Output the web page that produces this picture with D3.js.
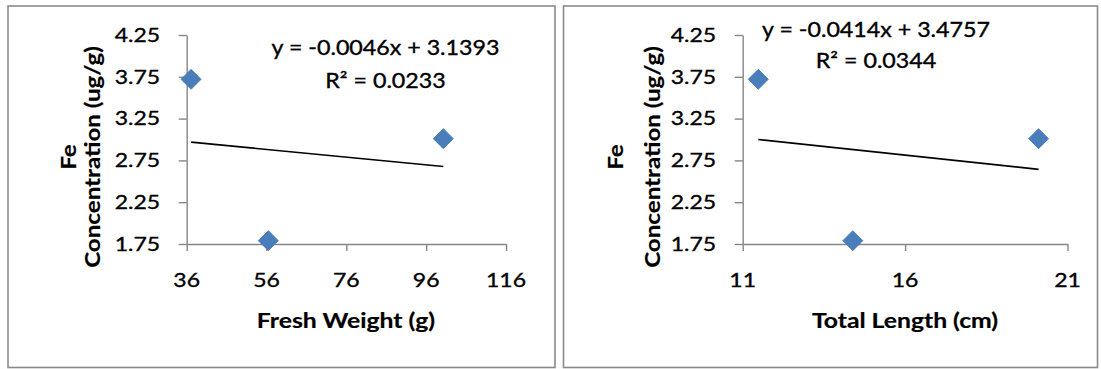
<!DOCTYPE html>
<html>
<head>
<meta charset="utf-8">
<script src="https://cdn.jsdelivr.net/npm/d3@7"></script>
<style>
  html, body { margin: 0; padding: 0; background: #fff; }
  svg { display: block; }
  text { font-family: Lato, "Open Sans", sans-serif; fill: #000; }
</style>
</head>
<body>
<svg id="chart" width="1101" height="369"></svg>
<script>
// Fe concentration of three fish against body size
const feConcentration = [3.72, 1.79, 3.01];
const freshWeight = [37.1, 56.45, 100.3];
const totalLength = [11.48, 14.39, 20.11];

const yTicks = [1.75, 2.25, 2.75, 3.25, 3.75, 4.25];
const weightTicks = [36, 56, 76, 96, 116];
const lengthTicks = [11, 16, 21];

// fitted trendlines: slope, intercept, R²
const weightFit = { slope: -0.0046, intercept: 3.1393, r2: "0.0233" };
const lengthFit = { slope: -0.0414, intercept: 3.4757, r2: "0.0344" };

const svg = d3.select("#chart");
const SX = 1.15;            // glyphs are drawn slightly wide
const axisColor = "#868686";
const markerFill = "#4a7ebb";

function label(g, str, x, y, o = {}) {
  const tf = o.rotate
    ? `translate(${x},${y}) rotate(-90) scale(${SX},1)`
    : `translate(${x},${y}) scale(${SX},1)`;
  const t = g.append("text")
    .attr("transform", tf)
    .attr("text-anchor", o.anchor || "middle")
    .attr("font-size", o.size || 20)
    .attr("font-weight", o.bold ? 700 : 400)
    .attr("stroke", "#000")
    .attr("stroke-width", o.bold ? 0.2 : 0.35)
    .text(str);
  return t;
}

function panel(cfg) {
  const g = svg.append("g");

  // chart frame
  g.append("rect")
    .attr("x", cfg.frame[0]).attr("y", cfg.frame[1])
    .attr("width", cfg.frame[2]).attr("height", cfg.frame[3])
    .attr("fill", "#fff").attr("stroke", "#8a8a8a").attr("stroke-width", 1.6);

  const x = d3.scaleLinear().domain(cfg.xDomain).range(cfg.xRange);
  const y = d3.scaleLinear().domain([1.75, 4.25]).range([244, 35]);

  // y axis
  const ya = g.append("g").attr("transform", `translate(${cfg.xRange[0]},0)`)
    .call(d3.axisLeft(y).tickValues(yTicks).tickSize(8).tickSizeOuter(0).tickFormat(""));
  // x axis
  const xa = g.append("g").attr("transform", `translate(0,${y(1.75)})`)
    .call(d3.axisBottom(x).tickValues(cfg.xTicks).tickSize(7).tickSizeOuter(0).tickFormat(""));
  [ya, xa].forEach(a => {
    a.select(".domain").attr("stroke", axisColor).attr("stroke-width", 1.4);
    a.selectAll(".tick line").attr("stroke", axisColor).attr("stroke-width", 1.4);
  });

  yTicks.forEach(v => label(g, v.toFixed(2), cfg.xRange[0] - 26.5, y(v) + 6.8, { anchor: "end", size: 20 }));
  cfg.xTicks.forEach(v => label(g, String(v), x(v), 287.3, { size: 20 }));

  // trendline over the data range
  const [x0, x1] = d3.extent(cfg.xs);
  const f = v => cfg.fit.slope * v + cfg.fit.intercept;
  g.append("line")
    .attr("x1", x(x0)).attr("y1", y(f(x0)))
    .attr("x2", x(x1)).attr("y2", y(f(x1)))
    .attr("stroke", "#000").attr("stroke-width", 1.6);

  // markers
  const diamond = d3.symbol().type(d3.symbolSquare).size(200);
  g.selectAll("path.pt").data(cfg.xs.map((v, i) => [v, feConcentration[i]]))
    .join("path").attr("class", "pt")
    .attr("d", diamond)
    .attr("transform", d => `translate(${x(d[0])},${y(d[1])}) rotate(45)`)
    .attr("fill", markerFill).attr("stroke", "#4577b4").attr("stroke-width", 0.8);

  // equation and R²
  const sign = cfg.fit.intercept >= 0 ? "+" : "-";
  label(g, `y = ${cfg.fit.slope.toFixed(4)}x ${sign} ${Math.abs(cfg.fit.intercept).toFixed(4)}`,
        cfg.eq[0], cfg.eq[1], { size: 20.2 });
  label(g, `R² = ${cfg.fit.r2}`, cfg.eq[0], cfg.eq[2], { size: 20.2 });

  // axis titles
  label(g, cfg.xTitle, cfg.xTitlePos[0], 327.7, { bold: true, size: 21.5 });
  label(g, "Fe", cfg.yTitleX[0], 157, { bold: true, size: 21, rotate: true });
  label(g, "Concentration (ug/g)", cfg.yTitleX[1], 157, { bold: true, size: 21, rotate: true });
}

panel({
  frame: [8, 6, 547, 361.5],
  xDomain: [36, 116], xRange: [186.7, 506],
  xTicks: weightTicks, xs: freshWeight, fit: weightFit,
  eq: [385.5, 55, 88.3],
  xTitle: "Fresh Weight (g)", xTitlePos: [346],
  yTitleX: [75.7, 100]
});

panel({
  frame: [563.5, 6, 534, 361.5],
  xDomain: [11, 21], xRange: [742.7, 1067.5],
  xTicks: lengthTicks, xs: totalLength, fit: lengthFit,
  eq: [876, 36.7, 68.3],
  xTitle: "Total Length (cm)", xTitlePos: [905],
  yTitleX: [622.7, 660]
});
</script>
</body>
</html>
